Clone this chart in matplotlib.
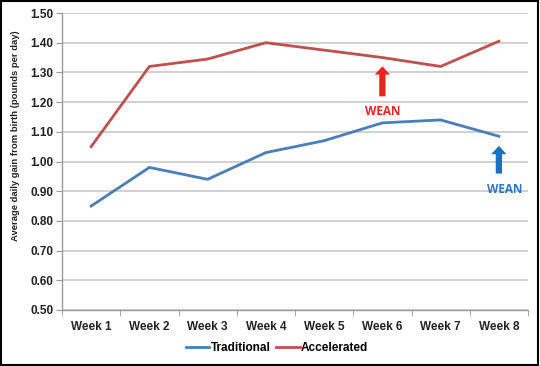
import matplotlib.pyplot as plt
from matplotlib.patches import Rectangle

weeks = ["Week 1", "Week 2", "Week 3", "Week 4", "Week 5", "Week 6", "Week 7", "Week 8"]
traditional = [0.85, 0.98, 0.94, 1.03, 1.07, 1.13, 1.14, 1.085]
accelerated = [1.05, 1.32, 1.345, 1.40, 1.375, 1.35, 1.32, 1.405]
y_ticks = [0.5, 0.6, 0.7, 0.8, 0.9, 1.0, 1.1, 1.2, 1.3, 1.4, 1.5]

BLUE = "#4a7ebb"
RED = "#c0504d"

plt.rcParams['font.family'] = ['Liberation Sans', 'DejaVu Sans']

fig = plt.figure(figsize=(5.4, 3.66), dpi=100)
ax = fig.add_axes([62 / 540, 1 - 310 / 366, 466 / 540, 297 / 366])

x = list(range(len(weeks)))
ax.plot(x, traditional, color=BLUE, lw=2.0, label="Traditional", solid_joinstyle="miter")
ax.plot(x, accelerated, color=RED, lw=2.0, label="Accelerated", solid_joinstyle="miter")

ax.set_xlim(-0.5, len(weeks) - 0.5)
ax.set_ylim(0.5, 1.5)
ax.set_yticks(y_ticks)
ax.set_yticklabels([f"{v:.2f}" for v in y_ticks], fontsize=8.5, fontweight="bold", color="#222222")
ax.set_xticks(x)
ax.set_xticklabels(weeks, fontsize=8.5, fontweight="bold", color="#222222")
ax.tick_params(axis="x", length=0, pad=8)
ax.set_xticks([i + 0.5 for i in range(-1, len(weeks))], minor=True)
ax.tick_params(axis="x", which="minor", length=4, color="#999999", direction="out")
ax.tick_params(axis="y", length=4, color="#999999", pad=2)

ax.grid(axis="y", color="#c8c8c8", lw=1.2)
ax.set_axisbelow(True)
for s in ["top", "right"]:
    ax.spines[s].set_visible(False)
for s in ["left", "bottom"]:
    ax.spines[s].set_color("#999999")
    ax.spines[s].set_linewidth(1.0)

ax.set_ylabel("Average daily gain from birth (pounds per day)", fontsize=6.8,
              fontweight="bold", color="#222222")
ax.yaxis.set_label_coords(-0.09, 0.586)

# weaning arrows
ax.annotate("", xy=(5, 1.33), xytext=(5, 1.21),
            arrowprops=dict(arrowstyle="simple,head_width=1.1,head_length=0.6,tail_width=0.45",
                            color="#e8241f", lw=0))
ax.text(5, 1.17, "WEAN", color="#e8241f", fontsize=8.5, fontweight="bold",
        ha="center", va="center", family=["Open Sans", "DejaVu Sans"])
ax.annotate("", xy=(7, 1.062), xytext=(7, 0.95),
            arrowprops=dict(arrowstyle="simple,head_width=1.1,head_length=0.6,tail_width=0.45",
                            color="#1f6fbf", lw=0))
ax.text(7.1, 0.905, "WEAN", color="#2e75c0", fontsize=8.5, fontweight="bold",
        ha="center", va="center", family=["Open Sans", "DejaVu Sans"])

fig.legend(loc="center", bbox_to_anchor=(277 / 540, 1 - 348 / 366), ncol=2, frameon=False,
           prop={"weight": "bold", "size": 8.5}, handlelength=2.0,
           handletextpad=0.1, columnspacing=0.5)

fig.patches.append(Rectangle((0.002, 0.003), 0.995, 0.994, transform=fig.transFigure,
                             fill=False, edgecolor="black", lw=1.5))

fig.savefig("out.png", dpi=100)
